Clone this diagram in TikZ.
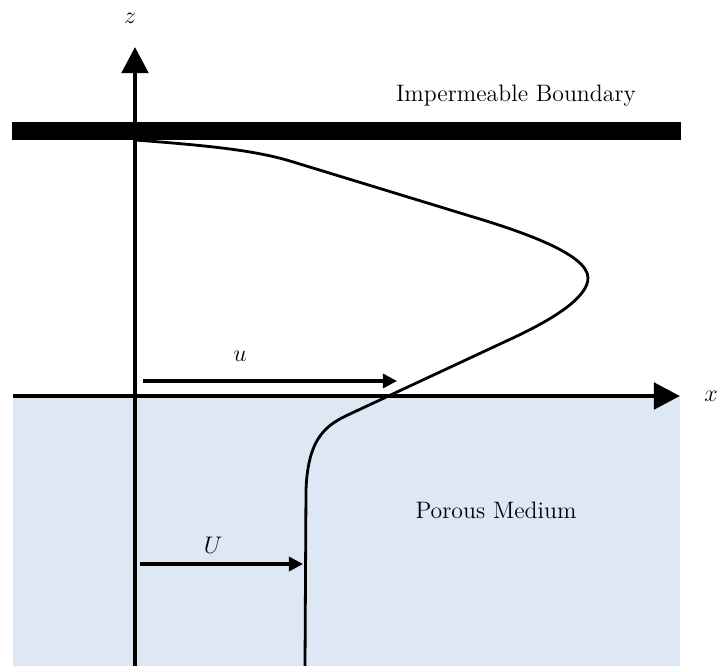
\documentclass[tikz,border=0pt]{standalone}
\usetikzlibrary{arrows.meta}
\definecolor{porous}{RGB}{221,232,244}
\begin{document}
\begin{tikzpicture}[x=0.5pt,y=-0.5pt,
  axis/.style={line width=2.4pt,-{Triangle[length=13pt,width=13pt]}},
  vel/.style={line width=1.6pt,-{Triangle[length=7pt,width=7pt]}},
  profile/.style={line width=1.4pt},
  lbl/.style={font=\fontsize{11.9}{14}\selectfont, inner sep=0pt},
  mlbl/.style={font=\fontsize{12.5}{14}\selectfont, inner sep=0pt}]
\useasboundingbox (0,0) rectangle (720,666);
% porous medium
\fill[porous] (13,396) rectangle (680,666);
% impermeable boundary
\fill[black] (12,122) rectangle (681,140);
% axes
\coordinate (zbot) at (135,666);
\coordinate (ztop) at (135,47);
\coordinate (xl) at (13,396);
\coordinate (xr) at (680,396);
\draw[axis] (zbot) -- (ztop);
\draw[axis] (xl) -- (xr);
\node[mlbl] (zlab) at (130,18) {$z$};
\node[mlbl] (xlab) at (711,396) {$x$};
% velocity profile
\draw[profile] (135,140) .. controls (200,145) and (252,149.5) .. (290,161)
  -- (470,216) .. controls (527,233) and (588,255) .. (588,278)
  .. controls (588,298) and (551,320) .. (515,337)
  -- (352,413) .. controls (328,424) and (308,435) .. (306,490)
  -- (305,666);
% velocity arrows
\coordinate (ua) at (143,381);
\coordinate (ub) at (397,381);
\draw[vel] (ua) -- (ub);
\node[mlbl] (ulab) at (240,356) {$u$};
\coordinate (Ua) at (140,564);
\coordinate (Ub) at (303,564);
\draw[vel] (Ua) -- (Ub);
\node[mlbl] (Ulab) at (213,545) {$U$};
% texts
\node[lbl] (imp) at (516,96) {Impermeable Boundary};
\node[lbl] (por) at (496,510) {Porous Medium};
\end{tikzpicture}
\end{document}
